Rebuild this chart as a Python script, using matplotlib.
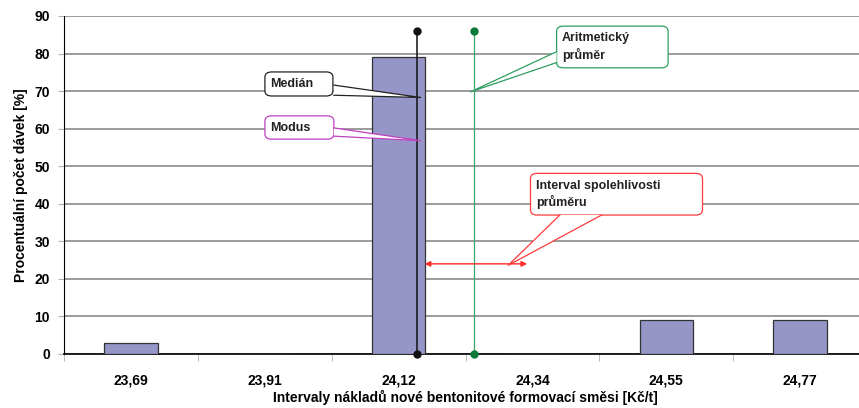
import matplotlib.pyplot as plt
from matplotlib.patches import FancyBboxPatch, Polygon

plt.rcParams['font.family'] = ['Liberation Sans', 'DejaVu Sans']
plt.rcParams['font.weight'] = 'bold'

# data
categories = ['23,69', '23,91', '24,12', '24,34', '24,55', '24,77']
percent = [3, 0, 79, 0, 9, 9]

# statistics positions on the category axis
median_pos = 2.136
mean_pos = 2.562
ci_low, ci_high = 2.174, 2.98
line_top = 86
ci_level = 24

fig = plt.figure(figsize=(8.59, 4.08), dpi=100)
ax = fig.add_axes([0.0745, 0.1324, 0.935, 0.8284])

x = list(range(len(categories)))
ax.bar(x, percent, width=0.4, color='#9595c8', edgecolor='#333333', linewidth=0.9, zorder=3)

ax.set_xlim(-0.5, len(categories) - 0.5)
ax.set_ylim(0, 90)
ax.set_yticks(range(0, 91, 10))
ax.set_xticks(x)
ax.set_xticklabels(categories, fontsize=10, fontweight='bold')
ax.set_xticks([i + 0.5 for i in x[:-1]] + [-0.5], minor=True)
ax.tick_params(axis='x', which='major', length=0, pad=14)
ax.tick_params(axis='x', which='minor', length=5, color='#b0b0b0', direction='out')
ax.tick_params(axis='y', length=4, color='#b0b0b0', labelsize=10, pad=6)
for lab in ax.get_yticklabels():
    lab.set_fontweight('bold')
ax.yaxis.grid(True, color='#8a8a8a', linewidth=1.2, zorder=0)
ax.set_axisbelow(True)
for s in ['top', 'right']:
    ax.spines[s].set_visible(False)
ax.spines['left'].set_color('black')
ax.spines['bottom'].set_color('black')
ax.spines['bottom'].set_linewidth(1.2)

ax.set_xlabel('Intervaly nákladů nové bentonitové formovací směsi [Kč/t]', fontsize=10, fontweight='bold')
ax.xaxis.set_label_coords(0.5, -0.105)
ax.set_ylabel('Procentuální počet dávek [%]', fontsize=10, fontweight='bold', labelpad=5)

# median and mean lines
ax.plot([median_pos, median_pos], [0, line_top], color='#111111', lw=1.1, marker='o', ms=5, zorder=5, clip_on=False)
ax.plot([mean_pos, mean_pos], [0, line_top], color='#3aa868', lw=0.9, zorder=5, clip_on=False)
ax.plot([mean_pos, mean_pos], [0, line_top], ls='none', marker='o', ms=5, color='#0a7a3a', zorder=6, clip_on=False)

# confidence interval arrow
ax.annotate('', xy=(ci_low, ci_level), xytext=(ci_high, ci_level),
            arrowprops=dict(arrowstyle='<|-|>', color='#ff2a2a', lw=1.0, mutation_scale=8), zorder=6)


def callout(x0, y0, x1, y1, base, tip, color, text):
    box = FancyBboxPatch((x0, y1), x1 - x0, y0 - y1,
                         boxstyle='round,pad=0,rounding_size=0.05',
                         mutation_aspect=28, fc='white', ec=color, lw=0.9, zorder=7)
    ax.add_patch(box)
    ax.add_patch(Polygon([base[0], tip, base[1]], closed=True, fc='white', ec='none', zorder=8))
    ax.plot([base[0][0], tip[0], base[1][0]], [base[0][1], tip[1], base[1][1]], color=color, lw=0.9, zorder=9)
    ax.text(x0 + 0.04, (y0 + y1) / 2, text, ha='left', va='center', fontsize=9,
            fontweight='bold', color='#222222', zorder=10, linespacing=1.3)


callout(1.001, 75.1, 1.509, 68.7, [(1.516, 71.6), (1.516, 68.9)], (median_pos + 0.028, 68.3), '#222222', 'Medián')
callout(1.001, 63.4, 1.516, 57.2, [(1.516, 60.2), (1.516, 58.0)], (median_pos + 0.028, 56.8), '#c040c0', 'Modus')
callout(3.180, 87.3, 4.013, 76.2, [(3.180, 80.5), (3.180, 77.6)], (mean_pos - 0.025, 69.8), '#2e9e5e', 'Aritmetický\nprůměr')
callout(2.985, 48.1, 4.270, 37.0, [(3.204, 37.0), (3.516, 37.0)], (2.818, 23.6), '#ff3a3a', 'Interval spolehlivosti\nprůměru')

fig.savefig('out.png', dpi=100)
